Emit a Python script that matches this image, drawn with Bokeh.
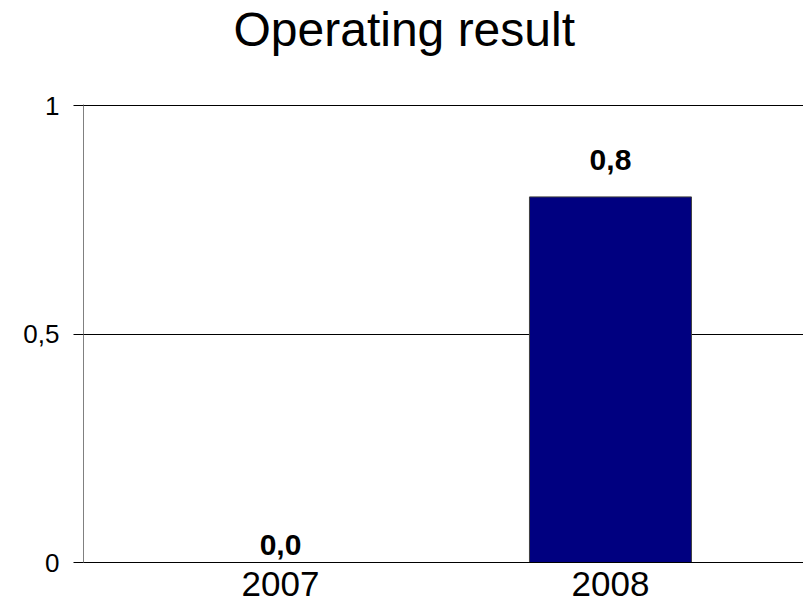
from bokeh.plotting import figure
from bokeh.models import ColumnDataSource, FixedTicker, Range1d, Title
from bokeh.core.properties import value
from bokeh.embed import file_html
from bokeh.resources import INLINE

# Chart data
categories = ["2007", "2008"]
results = [0.0, 0.8]
value_labels = ["0,0", "0,8"]
y_ticks = [0, 0.5, 1]
y_tick_labels = ["0", "0,5", "1"]

FONT = "Liberation Sans"
positions = list(range(len(categories)))
label_offsets = [18, 37]  # pixel lift of each value label above its bar top

src = ColumnDataSource(dict(
    x=positions,
    top=results,
    label=value_labels,
    yoff=[-o for o in label_offsets],
))

p = figure(
    width=803, height=605,
    title="Operating result",
    x_range=Range1d(-0.597, 1.585),
    y_range=Range1d(0, 1.0022),
    output_backend="svg",
    toolbar_location=None,
    min_border_left=83, min_border_right=0,
    min_border_top=104, min_border_bottom=43,
)
p.outline_line_color = None
p.background_fill_color = "white"
p.border_fill_color = "white"

# Blank panel that keeps the title clear of the plot area
p.add_layout(Title(text=" ", text_font_size="1px", standoff=46), "above")

# Chart title
p.title.align = "left"
p.title.offset = 150
p.title.vertical_align = "bottom"
p.title.standoff = 0
p.title.text_font = FONT
p.title.text_font_size = "48px"
p.title.text_font_style = "normal"
p.title.text_color = "black"

p.vbar(x="x", top="top", bottom=0, width=0.491, source=src,
       fill_color="#000080", line_color="#404040", line_width=1)

p.text(x="x", y="top", text="label", source=src,
       y_offset="yoff", text_align="center", text_baseline="alphabetic",
       text_font=value(FONT), text_font_size="30px", text_font_style="bold",
       text_color="black")

# Horizontal gridlines
p.xgrid.visible = False
p.ygrid.ticker = FixedTicker(ticks=y_ticks)
p.ygrid.grid_line_color = "black"
p.ygrid.grid_line_width = 1

# Y axis
p.yaxis.ticker = FixedTicker(ticks=y_ticks)
p.yaxis.major_label_overrides = {t: s for t, s in zip(y_ticks, y_tick_labels)}
p.yaxis.axis_line_color = "#808080"
p.yaxis.major_tick_line_color = "black"
p.yaxis.major_tick_out = 10
p.yaxis.major_tick_in = 0
p.yaxis.minor_tick_line_color = None
p.yaxis.major_label_standoff = 14
p.yaxis.major_label_text_font = FONT
p.yaxis.major_label_text_font_size = "26px"
p.yaxis.major_label_text_color = "black"

# X axis with category labels
p.xaxis.ticker = FixedTicker(ticks=positions)
p.xaxis.major_label_overrides = {i: c for i, c in zip(positions, categories)}
p.xaxis.axis_line_color = "black"
p.xaxis.major_tick_line_color = None
p.xaxis.minor_tick_line_color = None
p.xaxis.major_tick_out = 0
p.xaxis.major_label_standoff = 9
p.xaxis.major_label_text_font = FONT
p.xaxis.major_label_text_font_size = "35px"
p.xaxis.major_label_text_color = "black"

open("out.html", "w").write(file_html(p, INLINE))
